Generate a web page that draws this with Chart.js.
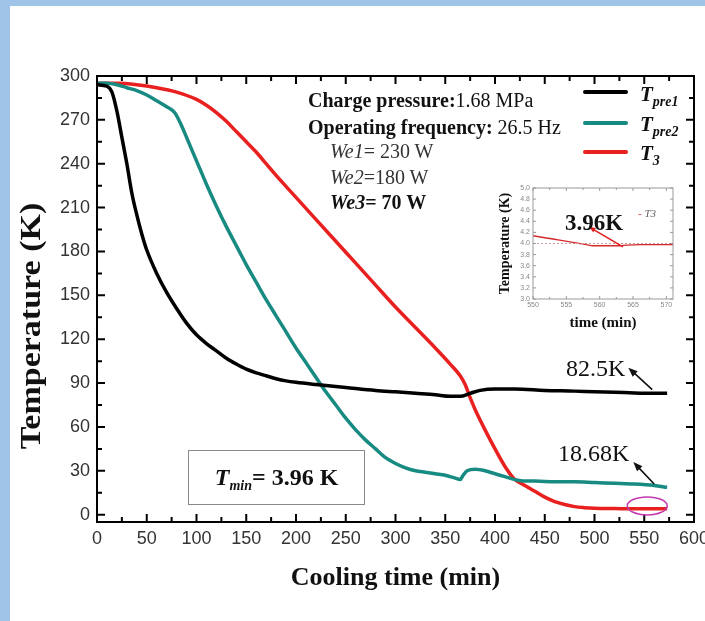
<!DOCTYPE html>
<html>
<head>
<meta charset="utf-8">
<title>Cooling curves</title>
<script src="https://cdn.jsdelivr.net/npm/chart.js@4.4.1/dist/chart.umd.min.js"></script>
<style>
  html, body { margin: 0; padding: 0; background: #fff; }
  #wrap { position: relative; width: 705px; height: 621px; overflow: hidden; }
  .strip { position: absolute; background: #9fc4e7; }
  #mainChart { position: absolute; left: 0; top: 0; }
  #insetChart { position: absolute; left: 480px; top: 178px; }
  .note { position: absolute; font-family: "Liberation Serif", serif; color: #111; white-space: nowrap; line-height: 1; }
  .swatch { position: absolute; width: 45px; height: 4px; border-radius: 2px; }
  .leg { position: absolute; font-family: "Liberation Serif", serif; font-style: italic; font-weight: bold; font-size: 21px; line-height: 1; color: #111; }
  .leg sub, #tmin sub { font-size: 14px; vertical-align: -5px; line-height: 1; }
  #tmin { position: absolute; left: 188px; top: 450px; width: 175px; height: 53px; border: 1px solid #888;
          font-family: "Liberation Serif", serif; font-weight: bold; font-size: 24px; line-height: 53px; text-align: center; color: #111; }
  #yTitle { position: absolute; left: 31px; top: 326px; width: 300px; margin-left: -150px; margin-top: -20px; height: 40px;
            line-height: 40px; text-align: center; transform: rotate(-90deg) scaleY(0.85);
            font-family: "Liberation Serif", serif; font-weight: bold; font-size: 34px; color: #111; white-space: nowrap; }
</style>
</head>
<body>
<div id="wrap">
  <div class="strip" style="left:0;top:0;width:705px;height:6px"></div>
  <div class="strip" style="left:0;top:0;width:10px;height:621px"></div>
  <canvas id="mainChart" width="705" height="621"></canvas>
  <canvas id="insetChart" width="200" height="157"></canvas>

  <div id="yTitle">Temperature (K)</div>

  <div class="note" style="left:308px;top:90px;font-size:20px"><b>Charge pressure:</b>1.68 MPa</div>
  <div class="note" style="left:308px;top:117px;font-size:20px"><b>Operating frequency:</b> 26.5 Hz</div>
  <div class="note" style="left:330px;top:141px;font-size:20px;color:#333"><i>We1</i>= 230 W</div>
  <div class="note" style="left:330px;top:167px;font-size:20px;color:#333"><i>We2</i>=180 W</div>
  <div class="note" style="left:330px;top:192px;font-size:20px"><b><i>We3</i>= 70 W</b></div>

  <div class="swatch" style="left:583px;top:90px;background:#000"></div>
  <div class="swatch" style="left:583px;top:121px;background:#178a82"></div>
  <div class="swatch" style="left:583px;top:150px;background:#e8201f"></div>
  <div class="leg" style="left:640px;top:84px">T<sub>pre1</sub></div>
  <div class="leg" style="left:640px;top:114px">T<sub>pre2</sub></div>
  <div class="leg" style="left:640px;top:143px">T<sub>3</sub></div>

  <div class="note" style="left:566px;top:356px;font-size:24px">82.5K</div>
  <div class="note" style="left:558px;top:441px;font-size:24px">18.68K</div>
  <div id="tmin"><i>T</i><sub><i>min</i></sub>= 3.96 K</div>

  <div class="note" style="left:565px;top:211px;font-size:23px;font-weight:bold">3.96K</div>
  <div class="note" style="left:638px;top:208px;font-size:11px;color:#666"><span style="color:#d33">-</span> <i>T3</i></div>
</div>

<script>
// main curves: cooling time (min) and temperature (K)
const timePre1 = [0, 10, 15, 20, 25, 30, 35, 40, 45, 50, 60, 70, 80, 90, 100, 110, 120, 130, 140, 150, 160, 170, 180, 190, 200, 220, 250, 280, 300, 320, 340, 355, 365, 375, 385, 400, 420, 450, 480, 500, 530, 560, 573];
const tempPre1 = [294, 293, 289, 276, 258, 240, 220, 205, 192, 181, 165, 152, 141, 131, 123, 117, 112, 107, 103, 99.5, 97, 95, 93, 91.5, 90.5, 89, 87, 85, 84, 83, 82, 81, 81, 83, 85, 86, 86, 85, 84.5, 84, 83.5, 83, 83];

const timePre2 = [0, 10, 20, 30, 40, 50, 60, 70, 78, 85, 90, 100, 110, 120, 130, 140, 150, 160, 170, 180, 190, 200, 210, 220, 230, 240, 250, 260, 270, 280, 290, 300, 310, 320, 330, 340, 350, 360, 365, 368, 372, 380, 390, 400, 410, 420, 430, 440, 460, 480, 500, 520, 540, 560, 573];
const tempPre2 = [295, 295, 294, 292, 290, 287, 283, 279, 275, 266, 258, 242, 226, 211, 197, 184, 171, 159, 147, 136, 125, 114, 104, 94, 84, 75, 66, 58, 51, 45, 39, 35, 32, 30, 29, 28, 27, 25, 24, 27, 30, 31, 30, 28, 26, 24, 23, 23, 22.5, 22.5, 22, 21.5, 21, 20, 18.7];

const timeT3 = [0, 20, 40, 60, 80, 100, 110, 120, 130, 140, 150, 160, 170, 180, 200, 220, 240, 260, 280, 300, 320, 340, 355, 365, 370, 375, 380, 390, 400, 410, 420, 430, 440, 450, 460, 470, 480, 490, 500, 520, 540, 560, 573];
const tempT3 = [295, 295, 294, 292, 289, 284, 280, 275, 269, 262, 255, 248, 240, 232, 217, 202, 187, 172, 157, 142, 128, 114, 103, 95, 89, 80, 72, 58, 45, 33, 24, 20, 16, 12, 9, 7, 5.5, 4.8, 4.4, 4.2, 4.0, 4.0, 4.0];

const xTicks = [0, 50, 100, 150, 200, 250, 300, 350, 400, 450, 500, 550, 600];
const yTicks = [0, 30, 60, 90, 120, 150, 180, 210, 240, 270, 300];

// inset: T3 close to the end of the run
const insetTime = [550, 552, 554, 556, 558, 559, 560, 562, 563, 564, 566, 568, 570, 571];
const insetTemp = [4.14, 4.10, 4.06, 4.02, 3.98, 3.96, 3.96, 3.96, 3.96, 3.97, 3.98, 3.98, 3.98, 3.98];
const insetRefTime = [550, 571];
const insetRefTemp = [4.0, 4.0];
const insetXTicks = [550, 555, 560, 565, 570];
const insetYTicks = [3.0, 3.2, 3.4, 3.6, 3.8, 4.0, 4.2, 4.4, 4.6, 4.8, 5.0];

const serif = '"Liberation Serif", "Times New Roman", serif';
const sans = '"Liberation Sans", Arial, sans-serif';

function toPoints(xs, ys) {
    return xs.map((x, i) => ({ x: x, y: ys[i] }));
}

function eachTick(start, end, step, every, fn) {
    for (let i = 0; ; i++) {
        const v = start + i * step;
        if (v > end + step * 1e-6) break;
        fn(v, i % every === 0);
    }
}

// frame round the plot area with ticks pointing inwards on all four sides
const frameTicks = {
    id: 'frameTicks',
    afterDatasetsDraw(chart, args, o) {
        const { ctx, chartArea: a } = chart;
        const xs = chart.scales.x, ys = chart.scales.y;
        ctx.save();
        ctx.strokeStyle = o.color;
        ctx.lineWidth = o.tickWidth;
        ctx.beginPath();
        eachTick(o.x[0], o.x[1], o.x[2], o.x[3], (v, major) => {
            const px = xs.getPixelForValue(v);
            const len = major ? o.major : o.minor;
            ctx.moveTo(px, a.bottom); ctx.lineTo(px, a.bottom - len);
            ctx.moveTo(px, a.top); ctx.lineTo(px, a.top + len);
        });
        eachTick(o.y[0], o.y[1], o.y[2], o.y[3], (v, major) => {
            const py = ys.getPixelForValue(v);
            const len = major ? o.major : o.minor;
            ctx.moveTo(a.left, py); ctx.lineTo(a.left + len, py);
            ctx.moveTo(a.right, py); ctx.lineTo(a.right - len, py);
        });
        ctx.stroke();
        ctx.lineWidth = o.frameWidth;
        ctx.strokeRect(a.left, a.top, a.right - a.left, a.bottom - a.top);
        ctx.restore();
    }
};

// arrows and ellipses given in data units
const marks = {
    id: 'marks',
    afterDatasetsDraw(chart, args, o) {
        const { ctx } = chart;
        const xs = chart.scales.x, ys = chart.scales.y;
        ctx.save();
        (o.arrows || []).forEach(ar => {
            const x1 = xs.getPixelForValue(ar.from[0]), y1 = ys.getPixelForValue(ar.from[1]);
            const x2 = xs.getPixelForValue(ar.to[0]), y2 = ys.getPixelForValue(ar.to[1]);
            const ang = Math.atan2(y2 - y1, x2 - x1);
            const h = ar.head;
            ctx.strokeStyle = ar.color;
            ctx.fillStyle = ar.color;
            ctx.lineWidth = ar.width;
            ctx.beginPath();
            ctx.moveTo(x1, y1);
            ctx.lineTo(x2 - Math.cos(ang) * h * 0.7, y2 - Math.sin(ang) * h * 0.7);
            ctx.stroke();
            ctx.beginPath();
            ctx.moveTo(x2, y2);
            ctx.lineTo(x2 - h * Math.cos(ang - 0.38), y2 - h * Math.sin(ang - 0.38));
            ctx.lineTo(x2 - h * Math.cos(ang + 0.38), y2 - h * Math.sin(ang + 0.38));
            ctx.closePath();
            ctx.fill();
        });
        (o.ellipses || []).forEach(el => {
            ctx.strokeStyle = el.color;
            ctx.lineWidth = el.width;
            ctx.beginPath();
            ctx.ellipse(xs.getPixelForValue(el.at[0]), ys.getPixelForValue(el.at[1]), el.rx, el.ry, 0, 0, Math.PI * 2);
            ctx.stroke();
        });
        ctx.restore();
    }
};

function lineSet(label, xs, ys, color, width) {
    return {
        label: label,
        data: toPoints(xs, ys),
        borderColor: color,
        borderWidth: width,
        pointRadius: 0,
        cubicInterpolationMode: 'monotone',
        fill: false
    };
}

new Chart(document.getElementById('mainChart'), {
    type: 'line',
    data: {
        datasets: [
            lineSet('Tpre1', timePre1, tempPre1, '#000000', 3.5),
            lineSet('Tpre2', timePre2, tempPre2, '#178a82', 3.5),
            lineSet('T3', timeT3, tempT3, '#e8201f', 3.5)
        ]
    },
    plugins: [frameTicks, marks],
    options: {
        responsive: false,
        animation: false,
        layout: { padding: { left: 0, top: 76, right: 11, bottom: 0 } },
        plugins: {
            legend: { display: false },
            tooltip: { enabled: false },
            frameTicks: { color: '#000', tickWidth: 2, frameWidth: 2, major: 8, minor: 5,
                          x: [0, 600, 25, 2], y: [0, 300, 15, 2] },
            marks: {
                arrows: [
                    { from: [558, 85.5], to: [534, 100.5], color: '#111', width: 1.6, head: 10 },
                    { from: [560, 21], to: [539, 36], color: '#111', width: 1.6, head: 10 }
                ],
                ellipses: [
                    { at: [553, 6], rx: 20, ry: 9, color: '#c23ab0', width: 1.5 }
                ]
            }
        },
        scales: {
            x: {
                type: 'linear',
                min: 0,
                max: 600,
                grid: { display: false, drawTicks: false },
                border: { display: false },
                afterBuildTicks: s => { s.ticks = xTicks.map(v => ({ value: v })); },
                afterFit: s => { s.height = 99; s.paddingLeft = 0; s.paddingRight = 0; },
                ticks: { color: '#333', padding: 6, maxRotation: 0, autoSkip: false,
                         font: { family: sans, size: 18 } },
                title: { display: true, text: 'Cooling time (min)', color: '#111',
                         font: { family: serif, size: 26, weight: 'bold' }, padding: { top: 0, bottom: 27 } }
            },
            y: {
                min: -5,
                max: 300,
                grid: { display: false, drawTicks: false },
                border: { display: false },
                afterBuildTicks: s => { s.ticks = yTicks.map(v => ({ value: v })); },
                afterFit: s => { s.width = 97; s.paddingTop = 0; s.paddingBottom = 0; },
                ticks: { color: '#333', padding: 7, autoSkip: false,
                         font: { family: sans, size: 18 } }
            }
        }
    }
});

new Chart(document.getElementById('insetChart'), {
    type: 'line',
    data: {
        datasets: [
            Object.assign(lineSet('ref', insetRefTime, insetRefTemp, '#c99', 1), { borderDash: [2, 2] }),
            lineSet('T3', insetTime, insetTemp, '#d62a2a', 1.4)
        ]
    },
    plugins: [frameTicks, marks],
    options: {
        responsive: false,
        animation: false,
        layout: { padding: { left: 0, top: 10, right: 7, bottom: 0 } },
        plugins: {
            legend: { display: false },
            tooltip: { enabled: false },
            frameTicks: { color: '#999', tickWidth: 1, frameWidth: 1, major: 3, minor: 2,
                          x: [550, 571, 2.5, 2], y: [3, 5, 0.2, 1] },
            marks: {
                arrows: [
                    { from: [563.5, 3.94], to: [558.4, 4.3], color: '#e02020', width: 1.6, head: 7 }
                ]
            }
        },
        scales: {
            x: {
                type: 'linear',
                min: 550,
                max: 571,
                grid: { display: false, drawTicks: false },
                border: { display: false },
                afterBuildTicks: s => { s.ticks = insetXTicks.map(v => ({ value: v })); },
                afterFit: s => { s.height = 36; s.paddingLeft = 0; s.paddingRight = 0; },
                ticks: { color: '#888', padding: 2, maxRotation: 0, autoSkip: false,
                         font: { family: sans, size: 7 } },
                title: { display: true, text: 'time (min)', color: '#111',
                         font: { family: serif, size: 15, weight: 'bold' }, padding: { top: 0, bottom: 3 } }
            },
            y: {
                min: 3,
                max: 5,
                grid: { display: false, drawTicks: false },
                border: { display: false },
                afterBuildTicks: s => { s.ticks = insetYTicks.map(v => ({ value: v })); },
                afterFit: s => { s.width = 53; s.paddingTop = 0; s.paddingBottom = 0; },
                ticks: { color: '#888', padding: 3, autoSkip: false,
                         callback: v => v.toFixed(1),
                         font: { family: sans, size: 7 } },
                title: { display: true, text: 'Temperature (K)', color: '#111',
                         font: { family: serif, size: 14, weight: 'bold' }, padding: { top: 17, bottom: 0 } }
            }
        }
    }
});
</script>
</body>
</html>
